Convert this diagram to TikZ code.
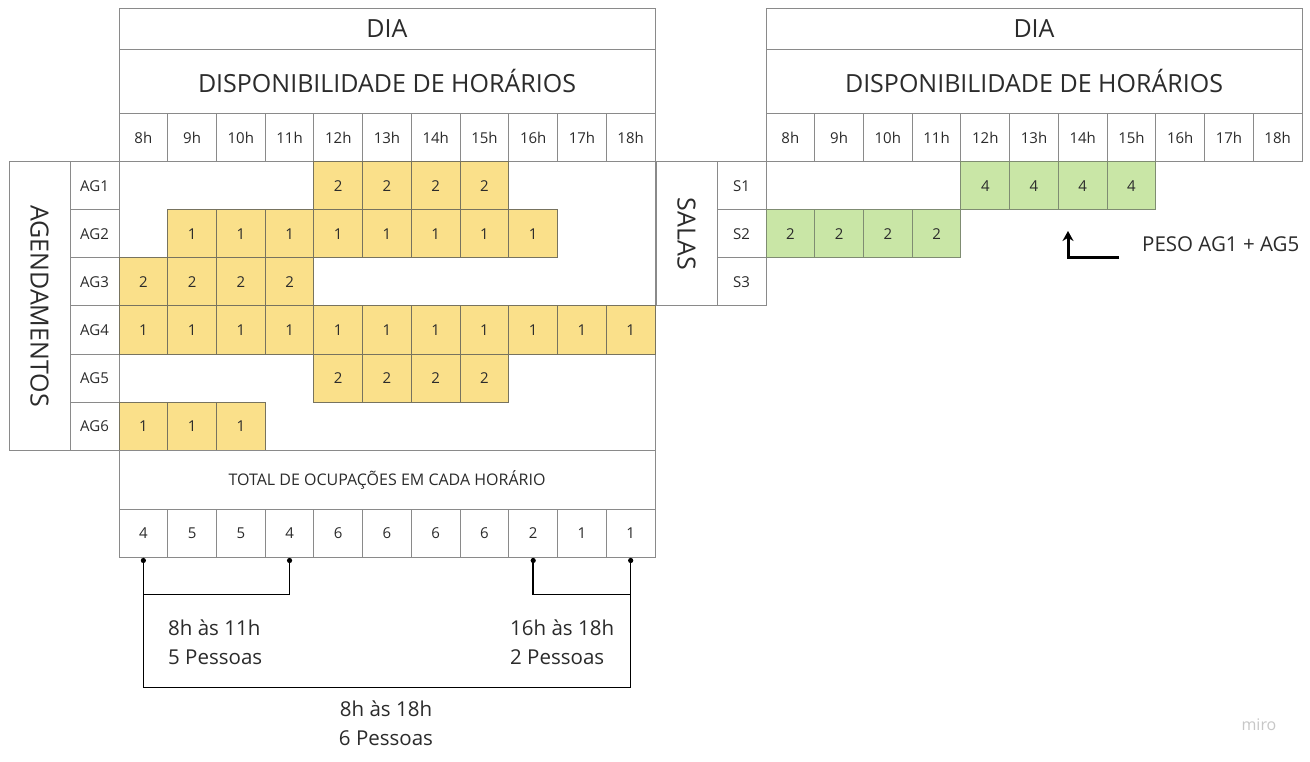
\documentclass[tikz,border=0pt]{standalone}
\usepackage{fontspec}
\setmainfont{Open Sans}
\usetikzlibrary{arrows.meta,calc}
\definecolor{bord}{HTML}{8A8A8A}
\definecolor{ybord}{HTML}{77735F}
\definecolor{yfill}{HTML}{FAE08A}
\definecolor{gfill}{HTML}{C9E6A6}
\definecolor{gbord}{HTML}{7F8C72}
\definecolor{txt}{HTML}{2B2B2B}
\tikzset{
  box/.style={draw=bord, line width=1pt, inner sep=0pt, text=txt},
  cellbox/.style={box, minimum width=48.73pt, minimum height=48pt, font=\fontsize{15}{17}\selectfont},
  ycell/.style={cellbox, fill=yfill, draw=ybord},
  gcell/.style={cellbox, fill=gfill, draw=gbord},
  plain/.style={line width=1.6pt, black},
  lbl/.style={text=txt, font=\fontsize{20.5}{29}\selectfont, align=left, inner sep=0pt},
  head/.style={box, minimum width=536pt, font=\fontsize{25}{27}\selectfont},
  side/.style={text=txt, rotate=-90, font=\fontsize{25}{27}\selectfont, inner sep=0pt},
}
\begin{document}
\begin{tikzpicture}[x=1pt, y=-1pt]
\useasboundingbox (0,0) rectangle (1310,762);
\fill[white] (0,0) rectangle (1310,762);

% ---------- LEFT TABLE ----------
\node[head, minimum height=41pt] (ldia) at (387,29.5) {\raisebox{2pt}{DIA}};
\node[head, minimum height=64pt] (ldisp) at (387,82) {\raisebox{3pt}{DISPONIBILIDADE DE HORÁRIOS}};
\foreach \h [count=\i] in {8h,9h,10h,11h,12h,13h,14h,15h,16h,17h,18h}{
  \pgfmathsetmacro\cx{119+48.73*(\i-0.5)}
  \node[cellbox] (lh\i) at (\cx,138) {\h};
}
% grid area
\node[box, minimum width=536pt, minimum height=288pt] (lgrid) at (387,306) {};
\node[box, minimum width=61pt, minimum height=288pt] (agbox) at (39.5,306) {};
\node[side] (agt) at (39.5,306) {AGENDAMENTOS};
\foreach \r in {1,...,6}{
  \pgfmathsetmacro\cy{162+48*(\r-0.5)}
  \node[cellbox, minimum width=49pt] (ag\r) at (94.5,\cy) {AG\r};
}
% yellow cells: row, first col, last col, value
\foreach \r/\a/\b/\v in {1/5/8/2, 2/2/9/1, 3/1/4/2, 4/1/11/1, 5/5/8/2, 6/1/3/1}{
  \pgfmathsetmacro\cy{162+48*(\r-0.5)}
  \foreach \c in {\a,...,\b}{
    \pgfmathsetmacro\cx{119+48.73*(\c-0.5)}
    \node[ycell] (y\r-\c) at (\cx,\cy) {\v};
  }
}
% totals
\node[box, minimum width=536pt, minimum height=59pt, font=\fontsize{16}{18}\selectfont] (ltot) at (387,479.5) {TOTAL DE OCUPAÇÕES EM CADA HORÁRIO};
\foreach \v [count=\i] in {4,5,5,4,6,6,6,6,2,1,1}{
  \pgfmathsetmacro\cx{119+48.73*(\i-0.5)}
  \node[cellbox] (t\i) at (\cx,533) {\v};
}
% brackets
\coordinate (b1) at ($(t1.south)+(0,37)$);
\coordinate (b9) at ($(t9.south)+(0,37)$);
\coordinate (bb) at ($(t1.south)+(0,130)$);
\draw[plain] (t1.south) -- (b1) -| (t4.south);
\draw[plain] (t9.south) |- (t11.south |- b9);
\draw[plain] (t1.south) -- (bb) -| (t11.south);
\foreach \n in {t1,t4,t9,t11}{ \fill[black] ($(\n.south)+(0,3)$) circle (2.6pt); }
\node[lbl, anchor=north west] (l1) at (168,620) {8h às 11h\\5 Pessoas};
\node[lbl, anchor=north west] (l2) at (510,620) {16h às 18h\\2 Pessoas};
\node[lbl, anchor=north, align=center] (l3) at (386,701) {8h às 18h\\6 Pessoas};

% ---------- RIGHT TABLE ----------
\node[head, minimum height=41pt] (rdia) at (1034,29.5) {\raisebox{2pt}{DIA}};
\node[head, minimum height=64pt] (rdisp) at (1034,82) {\raisebox{3pt}{DISPONIBILIDADE DE HORÁRIOS}};
\foreach \h [count=\i] in {8h,9h,10h,11h,12h,13h,14h,15h,16h,17h,18h}{
  \pgfmathsetmacro\cx{766+48.73*(\i-0.5)}
  \node[cellbox] (rh\i) at (\cx,138) {\h};
}
\node[box, minimum width=61pt, minimum height=144pt] (salbox) at (686.5,234) {};
\node[side] (salt) at (686.5,234) {SALAS};
\foreach \r in {1,2,3}{
  \pgfmathsetmacro\cy{162+48*(\r-0.5)}
  \node[cellbox, minimum width=49pt] (s\r) at (741.5,\cy) {S\r};
}
\foreach \r/\a/\b/\v in {1/5/8/4, 2/1/4/2}{
  \pgfmathsetmacro\cy{162+48*(\r-0.5)}
  \foreach \c in {\a,...,\b}{
    \pgfmathsetmacro\cx{766+48.73*(\c-0.5)}
    \node[gcell] (g\r-\c) at (\cx,\cy) {\v};
  }
}
\coordinate (pa) at (1119,258);
\coordinate (pb) at (1068,231);
\draw[line width=3pt, black, -{Stealth[length=10pt,width=11pt]}] (pa) -| (pb);
\node[text=txt, font=\fontsize{20.5}{22}\selectfont, anchor=west, inner sep=0pt] (peso) at (1142,244) {PESO AG1 + AG5};

\node[text=black!22, font=\fontsize{16}{18}\selectfont, inner sep=0pt] (miro) at (1259,725) {miro};
\end{tikzpicture}
\end{document}
